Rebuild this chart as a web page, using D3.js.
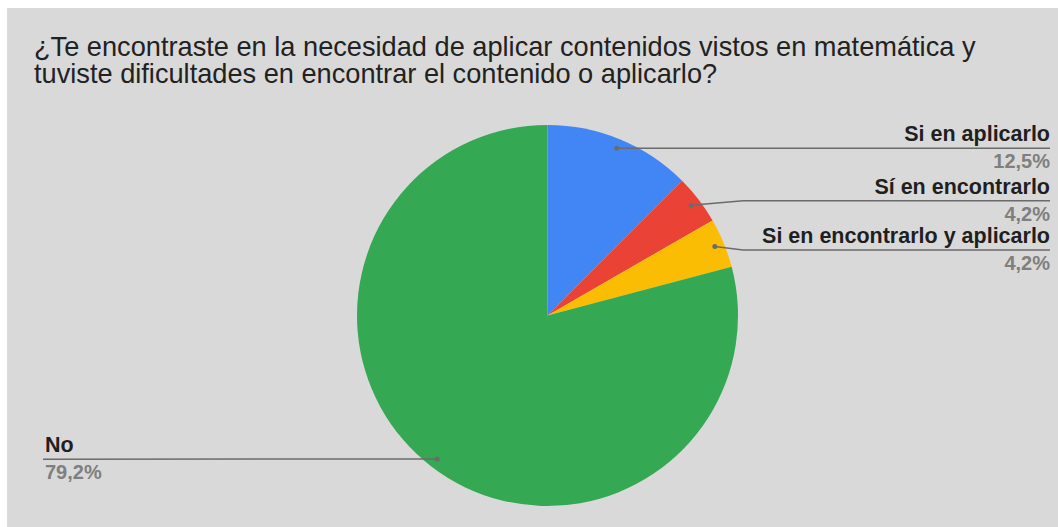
<!DOCTYPE html>
<html>
<head>
<meta charset="utf-8">
<script src="https://cdn.jsdelivr.net/npm/d3@7"></script>
<style>
  html, body { margin: 0; padding: 0; background: #ffffff; }
  svg { display: block; }
  text { font-family: "Liberation Sans", Arial, sans-serif; }
</style>
</head>
<body>
<svg id="chart" width="1058" height="527"></svg>
<script>
// Survey answers and their shares (%)
const categories = ["Si en aplicarlo", "Sí en encontrarlo", "Si en encontrarlo y aplicarlo", "No"];
const values = [12.5, 4.2, 4.2, 79.2];
const valueLabels = ["12,5%", "4,2%", "4,2%", "79,2%"];
const colors = ["#4285f4", "#ea4335", "#fbbc04", "#34a853"];
const titleLines = [
  "¿Te encontraste en la necesidad de aplicar contenidos vistos en matemática y",
  "tuviste dificultades en encontrar el contenido o aplicarlo?"
];

const W = 1058, H = 527;
const svg = d3.select("#chart");

// panel background
svg.append("rect").attr("x", 7).attr("y", 8).attr("width", W - 7).attr("height", H - 8)
  .attr("fill", "#d9d9d9");

// title
const title = svg.append("text").attr("x", 34).attr("y", 56)
  .attr("fill", "#222").style("font-size", "27.2px");
titleLines.forEach((t, i) => {
  title.append("tspan").attr("x", 34).attr("dy", i === 0 ? 0 : 27).text(t);
});

// pie
const cx = 547.5, cy = 315.5, R = 190.5;
const g = svg.append("g").attr("transform", `translate(${cx},${cy})`);
const pie = d3.pie().sort(null).value(d => d);
const arcs = pie(values);
const arc = d3.arc().innerRadius(0).outerRadius(R);
g.selectAll("path").data(arcs).enter().append("path")
  .attr("d", arc)
  .attr("fill", (d, i) => colors[i]);

// leader anchor points on each slice
const anchorArc = d3.arc().innerRadius(R * 0.95).outerRadius(R * 0.95);

// label rows: y of the horizontal leader, side of the chart
const labelRows = [
  { y: 148.3, side: "right" },
  { y: 200.7, side: "right" },
  { y: 250,   side: "right" },
  { y: 459.3, side: "left" }
];
const rightEdge = 1050, leftEdge = 43, bendX = 743;

const labels = svg.append("g");
arcs.forEach((a, i) => {
  const [ax, ay] = anchorArc.centroid(a);
  const px = cx + ax, py = cy + ay;
  const row = labelRows[i];
  let pts;
  if (row.side === "right") {
    pts = Math.abs(py - row.y) < 1 ? [[px, py], [rightEdge, row.y]]
                                   : [[px, py], [bendX, row.y], [rightEdge, row.y]];
  } else {
    pts = [[px, py], [leftEdge, row.y]];
  }
  labels.append("path").attr("d", d3.line()(pts))
    .attr("fill", "none").attr("stroke", "#6b6b6b").attr("stroke-width", 1.5);
  labels.append("circle").attr("cx", px).attr("cy", py).attr("r", 2.5).attr("fill", "#6b6b6b");

  const tx = row.side === "right" ? rightEdge : leftEdge + 2;
  const anchor = row.side === "right" ? "end" : "start";
  labels.append("text").attr("x", tx).attr("y", row.y - 7)
    .attr("text-anchor", anchor).attr("fill", "#1f1f1f")
    .style("font-size", "21.5px").style("font-weight", "bold")
    .text(categories[i]);
  labels.append("text").attr("x", tx).attr("y", row.y + 20)
    .attr("text-anchor", anchor).attr("fill", "#7f7f7f")
    .style("font-size", "20px").style("font-weight", "bold")
    .text(valueLabels[i]);
});
</script>
</body>
</html>
